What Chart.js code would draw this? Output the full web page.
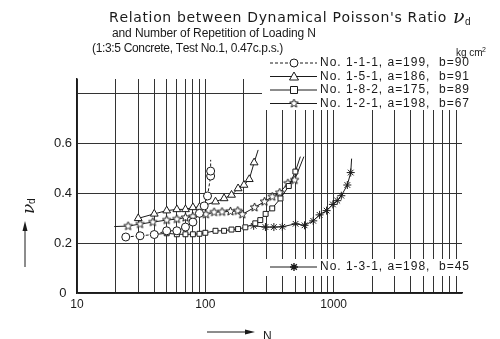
<!DOCTYPE html>
<html>
<head>
<meta charset="utf-8">
<script src="https://cdn.jsdelivr.net/npm/chart.js@4/dist/chart.umd.min.js"></script>
<style>
  html, body { margin: 0; padding: 0; background: #fff; }
  #wrap { width: 500px; height: 339px; }
</style>
</head>
<body>
<div id="wrap"><canvas id="chart" width="500" height="339"></canvas></div>
<script>
// Axis ticks
const xGrid = [10, 20, 30, 40, 50, 60, 70, 80, 90,
               100, 200, 300, 400, 500, 600, 700, 800, 900,
               1000, 2000, 3000, 4000, 5000, 6000, 7000, 8000, 9000];
const xLabels = [10, 100, 1000];
const yGrid = [0, 0.2, 0.4, 0.6, 0.8];
const yLabels = ['0', '0.2', '0.4', '0.6', ''];

// No. 1-1-1, a=199, b=90  (circles)
const circleN = [24, 31, 40, 50, 60, 70, 80, 90, 98, 104, 110, 110];
const circleV = [0.225, 0.23, 0.235, 0.25, 0.25, 0.265, 0.285, 0.32, 0.35, 0.39, 0.47, 0.49];
const circleTailN = [110];
const circleTailV = [0.535];

// No. 1-5-1, a=186, b=91  (triangles)
const triN = [30, 40, 50, 60, 70, 80, 90, 120, 140, 160, 180, 200, 220, 240];
const triV = [0.30, 0.318, 0.331, 0.336, 0.336, 0.344, 0.345, 0.367, 0.38, 0.394, 0.42, 0.434, 0.457, 0.524];
const triTailN = [258];
const triTailV = [0.575];

// No. 1-8-2, a=175, b=89  (squares)
const sqN = [40, 50, 60, 70, 80, 90, 100, 120, 140, 160, 180, 205, 245, 268, 295, 332, 385, 447, 503];
const sqV = [0.235, 0.24, 0.236, 0.236, 0.236, 0.238, 0.242, 0.25, 0.25, 0.255, 0.257, 0.264, 0.28, 0.293, 0.318, 0.34, 0.38, 0.43, 0.488];
const sqTailN = [550];
const sqTailV = [0.548];

// No. 1-2-1, a=198, b=67  (stars)
const starN = [25, 31, 39, 50, 60, 70, 80, 101, 117, 135, 157, 179, 194, 242, 289, 332, 380, 440, 496];
const starV = [0.269, 0.277, 0.285, 0.293, 0.297, 0.303, 0.307, 0.316, 0.325, 0.326, 0.328, 0.33, 0.316, 0.344, 0.367, 0.387, 0.403, 0.441, 0.454];
const starHeadN = [19.5];
const starHeadV = [0.267];
const starTailN = [586];
const starTailV = [0.548];

// No. 1-3-1, a=198, b=45  (asterisks)
const astN = [238, 294, 342, 398, 505, 593, 693, 777, 881, 986, 1067, 1147, 1278, 1358];
const astV = [0.27, 0.265, 0.265, 0.266, 0.278, 0.272, 0.29, 0.314, 0.331, 0.356, 0.371, 0.391, 0.434, 0.484];
const astTailN = [1380];
const astTailV = [0.54];

const legendRows = [
    { text: 'No. 1-1-1, a=199,  b=90', mark: 'circle', dash: [3, 2] },
    { text: 'No. 1-5-1, a=186,  b=91', mark: 'triangle', dash: [] },
    { text: 'No. 1-8-2, a=175,  b=89', mark: 'rect', dash: [] },
    { text: 'No. 1-2-1, a=198,  b=67', mark: 'star5', dash: [] }
];
const bottomLegend = { text: 'No. 1-3-1, a=198,  b=45', mark: 'asterisk', dash: [] };

const INK = '#1a1a1a';
const FONT = '"Liberation Sans", Arial, sans-serif';
const WIDE = '"DejaVu Sans", sans-serif';

function toPoints(ns, vs) {
    return ns.map((n, i) => ({ x: n, y: vs[i] }));
}

// five pointed star marker
function makeStar(size) {
    const c = document.createElement('canvas');
    c.width = size; c.height = size;
    const g = c.getContext('2d');
    const cx = size / 2, cy = size / 2, R = size / 2 - 1, r = R * 0.45;
    g.beginPath();
    for (let i = 0; i < 10; i++) {
        const a = -Math.PI / 2 + i * Math.PI / 5;
        const rad = i % 2 === 0 ? R : r;
        g.lineTo(cx + rad * Math.cos(a), cy + rad * Math.sin(a));
    }
    g.closePath();
    g.fillStyle = '#fff';
    g.fill();
    g.strokeStyle = INK;
    g.lineWidth = 1;
    g.stroke();
    return c;
}
const starImg = makeStar(11);

// head / tail points are line ends drawn without a marker
function series(label, headN, headV, ns, vs, tailN, tailV, style, radius, dash) {
    const first = headN.length, last = headN.length + ns.length;
    return {
        label: label,
        data: toPoints(headN, headV).concat(toPoints(ns, vs), toPoints(tailN, tailV)),
        borderColor: INK,
        borderWidth: 1,
        borderDash: dash,
        backgroundColor: '#fff',
        pointStyle: style,
        pointRadius: ctx => (ctx.dataIndex < first || ctx.dataIndex >= last) ? 0 : radius,
        pointBorderColor: INK,
        pointBackgroundColor: '#fff',
        pointBorderWidth: 1,
        tension: 0
    };
}

function drawMark(ctx, mark, x, y) {
    ctx.save();
    ctx.strokeStyle = INK;
    ctx.fillStyle = '#fff';
    ctx.lineWidth = 1;
    ctx.setLineDash([]);
    ctx.beginPath();
    if (mark === 'circle') {
        ctx.arc(x, y, 4, 0, Math.PI * 2);
        ctx.fill(); ctx.stroke();
    } else if (mark === 'triangle') {
        ctx.moveTo(x, y - 4.5); ctx.lineTo(x + 4.5, y + 3.5); ctx.lineTo(x - 4.5, y + 3.5);
        ctx.closePath(); ctx.fill(); ctx.stroke();
    } else if (mark === 'rect') {
        ctx.rect(x - 3.5, y - 3.5, 7, 7);
        ctx.fill(); ctx.stroke();
    } else if (mark === 'star5') {
        ctx.drawImage(starImg, x - 5.5, y - 5.5);
    } else {
        for (let i = 0; i < 4; i++) {
            const a = i * Math.PI / 4;
            ctx.moveTo(x - 4 * Math.cos(a), y - 4 * Math.sin(a));
            ctx.lineTo(x + 4 * Math.cos(a), y + 4 * Math.sin(a));
        }
        ctx.lineWidth = 1.4;
        ctx.stroke();
    }
    ctx.restore();
}

// draw text char by char, spreading it to a target width
function spacedText(ctx, text, x, y, w) {
    const m = ctx.measureText(text).width;
    const extra = (w - m) / (text.length - 1);
    let cx = x;
    for (const ch of text) {
        ctx.fillText(ch, cx, y);
        cx += ctx.measureText(ch).width + extra;
    }
}

function legendRow(ctx, row, y) {
    ctx.save();
    ctx.strokeStyle = INK;
    ctx.lineWidth = 1;
    ctx.setLineDash(row.dash);
    ctx.beginPath();
    ctx.moveTo(270, y); ctx.lineTo(317, y);
    ctx.stroke();
    ctx.restore();
    drawMark(ctx, row.mark, 294, y);
    ctx.fillStyle = INK;
    ctx.font = '12px ' + FONT;
    ctx.textBaseline = 'middle';
    spacedText(ctx, row.text, 320, y, 149);
}

const decorations = {
    id: 'decorations',
    afterDraw(chart) {
        const ctx = chart.ctx;
        ctx.save();
        ctx.fillStyle = INK;
        ctx.textBaseline = 'alphabetic';

        // title
        ctx.font = '14px ' + WIDE;
        spacedText(ctx, "Relation between Dynamical Poisson's Ratio", 109, 22, 336);
        ctx.font = 'italic 19px "DejaVu Serif", serif';
        ctx.fillText('\u03bd', 453, 23);
        ctx.font = '10px ' + FONT;
        ctx.fillText('d', 465, 25);
        ctx.font = '12px ' + FONT;
        spacedText(ctx, 'and Number of Repetition of Loading N', 112, 37, 204);
        spacedText(ctx, '(1:3:5 Concrete, Test No.1, 0.47c.p.s.)', 92, 52, 190);

        // legend boxes
        ctx.fillStyle = '#fff';
        ctx.fillRect(262, 55, 215, 55);
        ctx.fillRect(262, 259, 215, 17);
        ctx.fillStyle = INK;
        ctx.font = '10px ' + FONT;
        ctx.fillText('kg cm', 456, 56);
        ctx.font = '7px ' + FONT;
        ctx.fillText('2', 482, 52);
        legendRows.forEach((row, i) => legendRow(ctx, row, 63 + i * 13.5));
        legendRow(ctx, bottomLegend, 267);

        // y axis label with arrow
        ctx.save();
        ctx.translate(25, 214);
        ctx.rotate(-Math.PI / 2);
        ctx.font = 'italic 17px "DejaVu Serif", serif';
        ctx.fillText('\u03bd', 0, 5);
        ctx.font = '10px ' + FONT;
        ctx.fillText('d', 10, 7);
        ctx.restore();
        ctx.strokeStyle = INK;
        ctx.lineWidth = 1;
        ctx.beginPath();
        ctx.moveTo(25, 267); ctx.lineTo(25, 226);
        ctx.stroke();
        ctx.beginPath();
        ctx.moveTo(25, 221); ctx.lineTo(22.5, 231); ctx.lineTo(27.5, 231);
        ctx.closePath(); ctx.fill();

        // x axis label with arrow
        ctx.beginPath();
        ctx.moveTo(207, 332); ctx.lineTo(250, 332);
        ctx.stroke();
        ctx.beginPath();
        ctx.moveTo(255, 332); ctx.lineTo(245, 329.5); ctx.lineTo(245, 334.5);
        ctx.closePath(); ctx.fill();
        ctx.font = '12px ' + FONT;
        ctx.fillText('N', 263, 337);
        ctx.restore();
    }
};

new Chart(document.getElementById('chart'), {
    type: 'line',
    data: {
        datasets: [
            series('No. 1-1-1', [], [], circleN, circleV, circleTailN, circleTailV, 'circle', 4, [3, 2]),
            series('No. 1-5-1', [], [], triN, triV, triTailN, triTailV, 'triangle', 4.5, []),
            series('No. 1-8-2', [], [], sqN, sqV, sqTailN, sqTailV, 'rect', 3.5, []),
            series('No. 1-2-1', starHeadN, starHeadV, starN, starV, starTailN, starTailV, starImg, 5, []),
            series('No. 1-3-1', [], [], astN, astV, astTailN, astTailV, 'star', 4, [])
        ]
    },
    options: {
        responsive: false,
        animation: false,
        layout: { padding: { left: 0, right: 38, top: 79, bottom: 26 } },
        plugins: {
            legend: { display: false },
            title: { display: false },
            tooltip: { enabled: false }
        },
        scales: {
            x: {
                type: 'logarithmic',
                min: 10,
                max: 10000,
                afterBuildTicks: s => { s.ticks = xGrid.map(v => ({ value: v })); },
                afterFit: s => { s.height = 20; },
                ticks: {
                    autoSkip: false,
                    maxRotation: 0,
                    padding: 4,
                    color: INK,
                    font: { family: FONT, size: 12 },
                    callback: v => xLabels.includes(v) ? String(v) : ''
                },
                grid: { color: '#333', lineWidth: 1, drawTicks: false },
                border: { display: true, color: INK, width: 1.5 }
            },
            y: {
                min: 0,
                max: 0.86,
                afterBuildTicks: s => { s.ticks = yGrid.map(v => ({ value: v })); },
                afterFit: s => { s.width = 77; },
                ticks: {
                    padding: 5,
                    crossAlign: 'center',
                    color: INK,
                    font: { family: FONT, size: 13 },
                    callback: (v, i) => yLabels[i]
                },
                grid: { color: '#333', lineWidth: 1, drawTicks: false },
                border: { display: true, color: INK, width: 1.5 }
            }
        }
    },
    plugins: [decorations]
});
</script>
</body>
</html>
